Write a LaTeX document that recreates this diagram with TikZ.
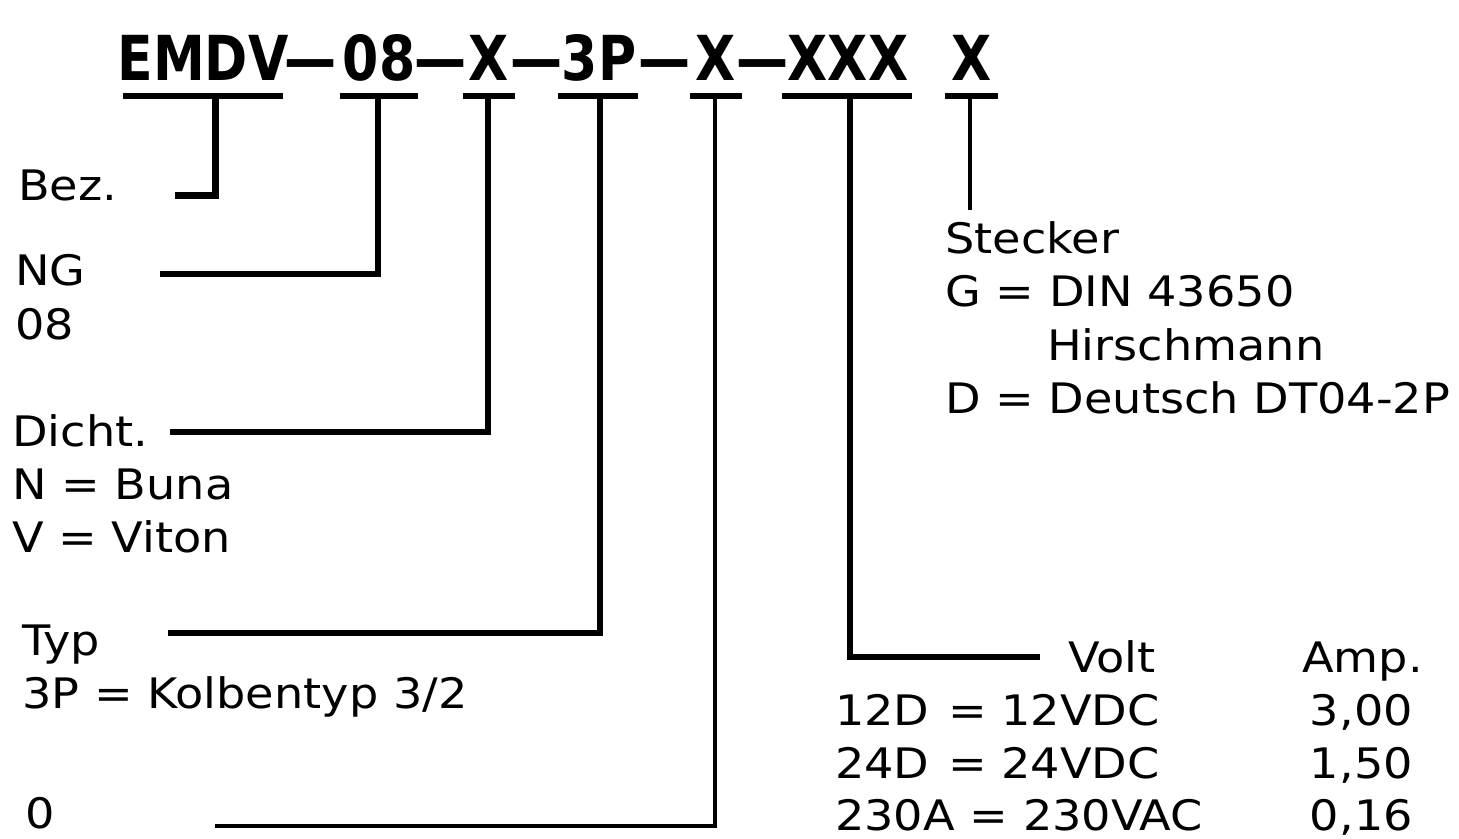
\documentclass[tikz,border=0pt]{standalone}
\usepackage{fontspec}
\newfontfamily\titlefont[FakeStretch=0.84]{DejaVu Sans Bold}
\newfontfamily\bodyfont[FakeStretch=1.1]{DejaVu Sans}
\begin{document}
\begin{tikzpicture}[x=1pt,y=-1pt,
  ttl/.style={anchor=base,inner sep=0pt,font=\titlefont\fontsize{62}{62}\selectfont},
  lbl/.style={anchor=base west,inner sep=0pt,font=\bodyfont\fontsize{42}{53}\selectfont},
  lblr/.style={anchor=base east,inner sep=0pt,font=\bodyfont\fontsize{42}{53}\selectfont},
  uline/.style={line width=6pt},
  conn/.style={line width=5.5pt}]
\useasboundingbox (0,0) rectangle (1459,838);
\fill[white] (0,0) rectangle (1459,838);
% title segments
\node[ttl] (t1) at (203,80) {EMDV};
\node[ttl] (d1) at (311,80) {—};
\node[ttl] (t2) at (379,80) {08};
\node[ttl] (d2) at (441,80) {—};
\node[ttl] (t3) at (489,80) {X};
\node[ttl] (d3) at (537,80) {—};
\node[ttl] (t4) at (599,80) {3P};
\node[ttl] (d4) at (665,80) {—};
\node[ttl] (t5) at (716,80) {X};
\node[ttl] (d5) at (763,80) {—};
\node[ttl] (t6) at (848,80) {XXX};
\node[ttl] (t7) at (972,80) {X};
% underlines
\coordinate (u1a) at (123,96); \coordinate (u1b) at (283,96);
\coordinate (u2a) at (340,96); \coordinate (u2b) at (418,96);
\coordinate (u3a) at (463,96); \coordinate (u3b) at (515,96);
\coordinate (u4a) at (558,96); \coordinate (u4b) at (638,96);
\coordinate (u5a) at (690,96); \coordinate (u5b) at (742,96);
\coordinate (u6a) at (782,96); \coordinate (u6b) at (912,96);
\coordinate (u7a) at (945,96); \coordinate (u7b) at (998,96);
\foreach \i in {1,...,7}{\draw[uline] (u\i a) -- (u\i b);}
% stem tops
\coordinate (s1) at (215,96);
\coordinate (s2) at (378,96);
\coordinate (s3) at (488,96);
\coordinate (s4) at (600,96);
\coordinate (s5) at (715,96);
\coordinate (s6) at (850,96);
\coordinate (s7) at (970,96);
% labels
\node[lbl] (bez) at (18,200) {Bez.};
\node[lbl] (ng) at (15,285) {NG};
\node[lbl] (ng2) at (15,339) {08};
\node[lbl] (dicht) at (12,446) {Dicht.};
\node[lbl] (buna) at (12,499) {N = Buna};
\node[lbl] (viton) at (12,552) {V = Viton};
\node[lbl] (typ) at (22,655) {Typ};
\node[lbl] (kolb) at (22,708) {3P = Kolbentyp 3/2};
\node[lbl] (null) at (25,828) {0};
\node[lbl] (steck) at (945,253) {Stecker};
\node[lbl] (din) at (945,306) {G = DIN 43650};
\node[lbl] (hirsch) at (1047,360) {Hirschmann};
\node[lbl] (deut) at (945,413) {D = Deutsch DT04-2P};
\node[lbl] (volt) at (1068,672) {Volt};
\node[lbl] (amp) at (1302,672) {Amp.};
\node[lbl] (c1) at (835,725) {12D};
\node[lbl] (v1) at (948,725) {= 12VDC};
\node[lblr] (a1) at (1413,725) {3,00};
\node[lbl] (c2) at (835,778) {24D};
\node[lbl] (v2) at (948,778) {= 24VDC};
\node[lblr] (a2) at (1413,778) {1,50};
\node[lbl] (c3) at (835,830) {230A = 230VAC};
\node[lblr] (a3) at (1413,830) {0,16};
% connector ends
\coordinate (e1) at (175,195);
\coordinate (e2) at (160,274);
\coordinate (e3) at (170,432);
\coordinate (e4) at (168,633);
\coordinate (e5) at (215,826);
\coordinate (e6) at (1040,657);
\coordinate (e7) at (970,210);
\draw[conn,line width=7pt] (s1) |- (e1);
\draw[conn] (s2) |- (e2);
\draw[conn] (s3) |- (e3);
\draw[conn] (s4) |- (e4);
\draw[conn,line width=4.5pt] (s5) |- (e5);
\draw[conn] (s6) |- (e6);
\draw[conn,line width=4pt] (s7) -- (e7);
\end{tikzpicture}
\end{document}
